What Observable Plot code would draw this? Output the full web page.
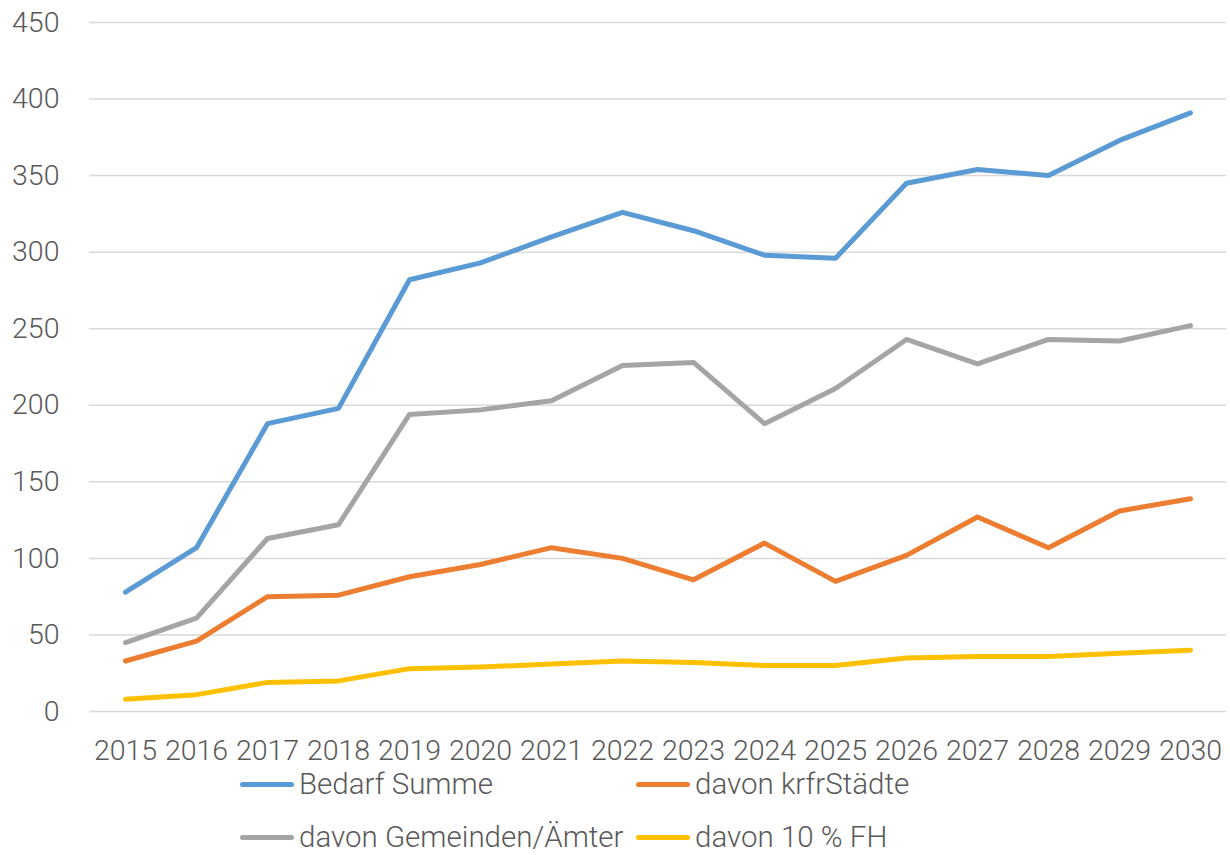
<!DOCTYPE html>
<html>
<head>
<meta charset="utf-8">
<script src="https://cdn.jsdelivr.net/npm/d3@7"></script>
<script src="https://cdn.jsdelivr.net/npm/@observablehq/plot@0.6"></script>
<style>
  html, body { margin: 0; padding: 0; background: #fff; }
  body { width: 1230px; height: 855px; position: relative; overflow: hidden;
         font-family: "Roboto", sans-serif; font-weight: 300; color: #595959; }
  #chart { position: absolute; left: 0; top: 0; }
  .legend { position: absolute; font-size: 29.5px; font-weight: 300; color: #595959; white-space: nowrap; }
  .legend .item { position: absolute; display: flex; align-items: center; }
  .legend .sw { width: 54px; height: 5px; border-radius: 3px; margin-right: 5px; }
</style>
</head>
<body>
<div id="chart"></div>
<div class="legend" id="legend"></div>
<script>
const years = [2015,2016,2017,2018,2019,2020,2021,2022,2023,2024,2025,2026,2027,2028,2029,2030];
const seriesNames = ["Bedarf Summe", "davon krfrStädte", "davon Gemeinden/Ämter", "davon 10 % FH"];
const colors = ["#5B9BD5", "#ED7D31", "#A5A5A5", "#FFC000"];
const bedarfSumme = [78, 107, 188, 198, 282, 293, 310, 326, 314, 298, 296, 345, 354, 350, 373, 391];
const krfrStaedte = [33, 46, 75, 76, 88, 96, 107, 100, 86, 110, 85, 102, 127, 107, 131, 139];
const gemeindenAemter = [45, 61, 113, 122, 194, 197, 203, 226, 228, 188, 211, 243, 227, 243, 242, 252];
const fh10 = [8, 11, 19, 20, 28, 29, 31, 33, 32, 30, 30, 35, 36, 36, 38, 40];
const yTicks = [0, 50, 100, 150, 200, 250, 300, 350, 400, 450];

const allSeries = [bedarfSumme, krfrStaedte, gemeindenAemter, fh10];
const data = [];
allSeries.forEach((vals, si) => {
  vals.forEach((v, i) => data.push({year: String(years[i]), value: v, series: seriesNames[si]}));
});

const chart = Plot.plot({
  width: 1230,
  height: 775,
  marginLeft: 89,
  marginRight: 4,
  marginTop: 22,
  marginBottom: 64,
  style: {fontFamily: '"Roboto", sans-serif', fontWeight: 300, fontSize: "28.5px", color: "#595959", background: "#fff"},
  x: {type: "point", domain: years.map(String), padding: 0.5, label: null, tickSize: 0, tickPadding: 28},
  y: {domain: [0, 450], ticks: yTicks, label: null, tickSize: 0, tickPadding: 30},
  color: {domain: seriesNames, range: colors},
  marks: [
    Plot.ruleY(yTicks, {stroke: "#D9D9D9", strokeWidth: 1.5}),
    Plot.axisY({ticks: yTicks, tickSize: 0, tickPadding: 30, label: null, fill: "#595959"}),
    Plot.axisX({tickSize: 0, tickPadding: 28, label: null, fill: "#595959"}),
    Plot.line(data, {x: "year", y: "value", z: "series", stroke: "series", strokeWidth: 5, strokeLinejoin: "round", strokeLinecap: "round"})
  ]
});
document.getElementById("chart").appendChild(chart);

const legend = document.getElementById("legend");
const pos = [[240, 767], [636, 767], [240, 820], [636, 820]];
seriesNames.forEach((name, i) => {
  const it = document.createElement("div");
  it.className = "item";
  it.style.left = pos[i][0] + "px";
  it.style.top = pos[i][1] + "px";
  const sw = document.createElement("div");
  sw.className = "sw";
  sw.style.background = colors[i];
  const tx = document.createElement("span");
  tx.textContent = name;
  it.appendChild(sw); it.appendChild(tx);
  legend.appendChild(it);
});
</script>
</body>
</html>
